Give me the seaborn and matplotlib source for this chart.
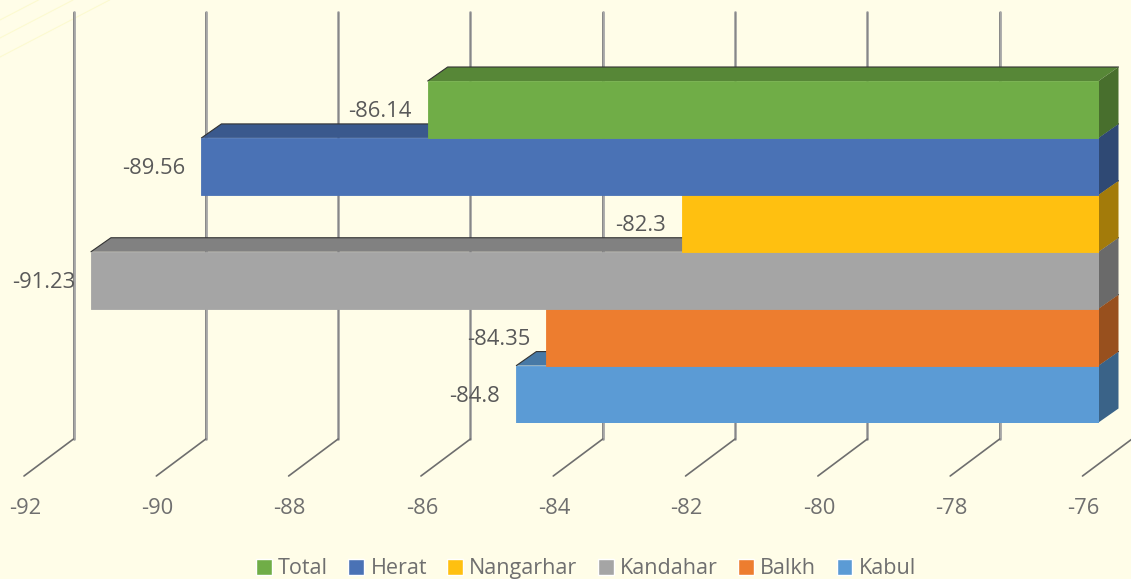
import matplotlib
matplotlib.use("Agg")
import matplotlib.pyplot as plt
from matplotlib.lines import Line2D
from matplotlib.patches import Polygon
from matplotlib.transforms import ScaledTranslation
import pandas as pd
import seaborn as sns

districts = ["Total", "Herat", "Nangarhar", "Kandahar", "Balkh", "Kabul"]
values = [-86.14, -89.56, -82.3, -91.23, -84.35, -84.8]
colors = ["#70AD47", "#4A72B5", "#FFC010", "#A5A5A5", "#ED7D2F", "#5B9BD5"]
ticks = [-92, -90, -88, -86, -84, -82, -80, -78, -76]

BG = "#FFFDE8"
W, H = 1131, 579
# plot box in pixels (front face of the bars)
LEFT, RIGHT, TOP, BOTTOM = 40, 1098.5, 81, 422.5

sns.set_theme(style="white")
plt.rcParams["font.family"] = ["Open Sans", "DejaVu Sans"]


def shade(color, factor):
    return tuple(c * factor for c in matplotlib.colors.to_rgb(color))


fig = plt.figure(figsize=(W / 100, H / 100), dpi=100, facecolor=BG)
ax = fig.add_axes([LEFT / W, 1 - BOTTOM / H, (RIGHT - LEFT) / W, (BOTTOM - TOP) / H])
ax.patch.set_visible(False)

df = pd.DataFrame({"district": districts, "value": values})
sns.barplot(
    data=df, x="value", y="district", hue="district", order=districts,
    hue_order=districts, palette=colors, saturation=1, width=1, dodge=False,
    orient="h", legend=True, ax=ax,
)
ax.set_xlim(ticks[0], ticks[-1])
ax.set_ylim(len(districts) - 0.5, -0.5)
ax.set(xlabel="", ylabel="", yticks=[])
sns.despine(ax=ax, left=True, bottom=True)

# pixels -> data units
sx = (ticks[-1] - ticks[0]) / (RIGHT - LEFT)
sy = len(districts) / (BOTTOM - TOP)
dx, dy = 20 * sx, 14 * sy

# gridlines: back wall then floor
y_top = -0.5 + (12 - TOP) * sy
y_back = -0.5 + (439 - TOP) * sy
y_foot = -0.5 + (476 - TOP) * sy
for t in ticks:
    back = t + 33.5 * sx
    foot = t - 16 * sx
    ax.plot([back, back], [y_top, y_back], color="#a6a6a6", lw=2.0, zorder=1, clip_on=False)
    ax.plot([back - 0.5 * sx, back - 0.5 * sx], [y_top, y_back], color="#7a7a7a", lw=0.5, zorder=1, clip_on=False)
    ax.plot([foot, back], [y_foot, y_back], color="#6e6e6e", lw=1.2, zorder=1, clip_on=False)

# fake 3d depth, upper bars are drawn over the lower ones
for i, (container, color) in enumerate(zip(ax.containers, colors)):
    z = 10 + len(districts) - i
    bar = container[0]
    x0 = bar.get_x() + bar.get_width()
    y0, y1 = bar.get_y(), bar.get_y() + bar.get_height()
    x1 = ticks[-1]
    bar.set_zorder(z + 0.2)
    bar.set_edgecolor(color)
    bar.set_linewidth(0.6)
    top = Polygon([(x0, y0), (x1, y0), (x1 + dx, y0 - dy), (x0 + dx, y0 - dy)],
                  facecolor=shade(color, 0.78), edgecolor="none", zorder=z, clip_on=False)
    side = Polygon([(x1, y0), (x1 + dx, y0 - dy), (x1 + dx, y1 - dy), (x1, y1)],
                   facecolor=shade(color, 0.64), edgecolor="none", zorder=z, clip_on=False)
    ax.add_patch(top)
    ax.add_patch(side)
    ax.add_line(Line2D([x0, x0 + dx, x1 + dx], [y0, y0 - dy, y0 - dy], color="#333333",
                       lw=0.8, zorder=z + 0.1, clip_on=False))
    for text in ax.bar_label(container, fmt="%g", padding=11.5, fontsize=15.8, color="#595959", zorder=30):
        text.set_va("center_baseline")

# tick labels sit under the floor ends of the gridlines
ax.set_xticks(ticks)
ax.set_xticklabels([str(t) for t in ticks], fontsize=15.8, color="#6f6f6f")
ax.tick_params(axis="x", length=0, pad=54.5)
shift = ScaledTranslation(-15 / 100, 0, fig.dpi_scale_trans)
for label in ax.get_xticklabels():
    label.set_transform(label.get_transform() + shift)

# faint decoration in the corner
for start in [20, 38, 57]:
    fig.add_artist(Line2D([0, start / 0.52 / W], [1 - start / H, 1], color="#FCFAD0", lw=0.8, zorder=0))

handles, labels = ax.get_legend_handles_labels()
ax.get_legend().remove()
leg = fig.legend(
    handles, labels, ncols=6, loc="center", bbox_to_anchor=(586 / W, 1 - 569 / H),
    frameon=False, fontsize=15.5, labelcolor="#6f6f6f", handlelength=0.72,
    handleheight=0.72, handletextpad=0.3, columnspacing=0.95, borderpad=0,
)
# the g in Nangarhar pushes that entry down
leg.get_texts()[2].set_y(0.4)

fig.savefig("out.png", dpi=100, facecolor=BG)
